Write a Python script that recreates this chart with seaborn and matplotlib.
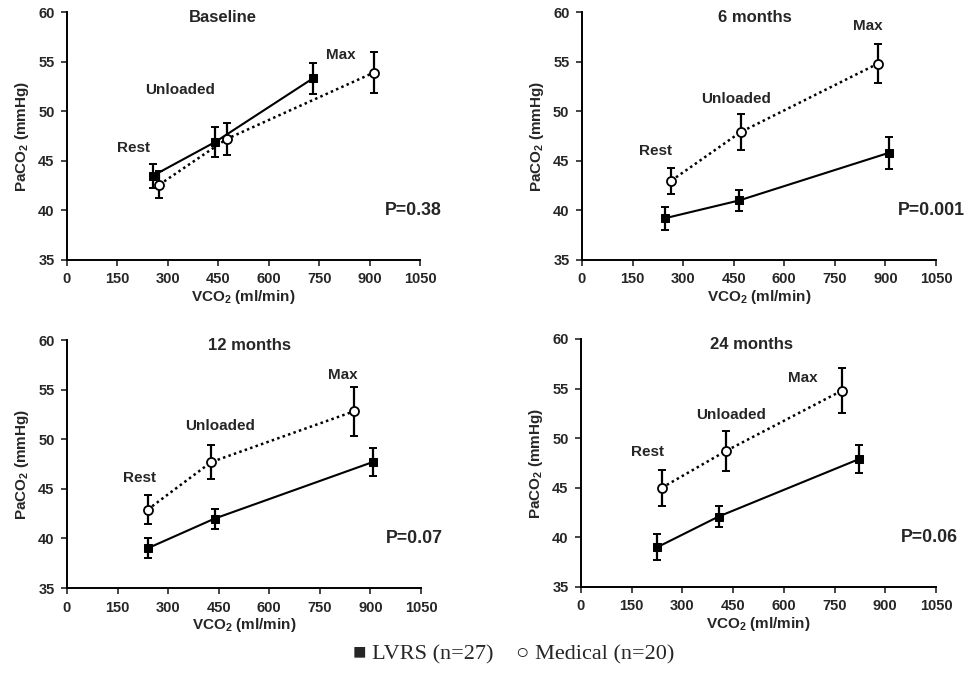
import numpy as np
import pandas as pd
import matplotlib
matplotlib.use("Agg")
import matplotlib.pyplot as plt
import seaborn as sns

# -- data (VCO2 ml/min, PaCO2 mmHg, error bar half-width)
panels = ["Baseline", "6 months", "12 months", "24 months"]
p_values = ["P=0.38", "P=0.001", "P=0.07", "P=0.06"]
stages = ["Rest", "Unloaded", "Max"]

lvrs_x = [[256, 441, 731], [245, 466, 910], [239, 438, 907], [225, 407, 823]]
lvrs_y = [[43.5, 46.9, 53.3], [39.2, 41.0, 45.8], [39.0, 42.0, 47.7], [39.0, 42.1, 47.9]]
lvrs_e = [[1.2, 1.5, 1.6], [1.15, 1.1, 1.6], [1.0, 1.0, 1.4], [1.3, 1.1, 1.4]]

med_x = [[275, 475, 913], [265, 471, 878], [239, 428, 850], [239, 428, 772]]
med_y = [[42.6, 47.2, 53.9], [43.0, 47.9, 54.8], [42.9, 47.7, 52.8], [45.0, 48.7, 54.8]]
med_e = [[1.35, 1.65, 2.1], [1.3, 1.8, 2.0], [1.45, 1.75, 2.5], [1.8, 2.0, 2.3]]

# label anchor positions (data coords) for Rest / Unloaded / Max and the title
stage_lbl_x = [[198, 337, 814], [219, 456, 848], [215, 455, 819], [197, 443, 656]]
stage_lbl_y = [[46.3, 52.1, 55.7], [46.0, 51.2, 58.6], [46.1, 51.3, 56.5], [48.6, 52.3, 56.1]]
title_x = [464, 512, 542, 503]

sns.set_style("ticks")
plt.rcParams["font.family"] = ["Liberation Sans", "DejaVu Sans"]
plt.rcParams["mathtext.fontset"] = "custom"
plt.rcParams["mathtext.rm"] = "Liberation Sans:bold"
plt.rcParams["mathtext.bf"] = "Liberation Sans:bold"

fig = plt.figure(figsize=(9.68, 6.9), dpi=100)
positions = [
    [0.0692, 0.6232, 0.3647, 0.3594],
    [0.6012, 0.6232, 0.3657, 0.3594],
    [0.0692, 0.1478, 0.3657, 0.3594],
    [0.6002, 0.1493, 0.3667, 0.3594],
]

for i, name in enumerate(panels):
    ax = fig.add_axes(positions[i])
    df = pd.DataFrame({
        "x": lvrs_x[i] + med_x[i],
        "y": lvrs_y[i] + med_y[i],
        "group": ["LVRS"] * 3 + ["Medical"] * 3,
    })
    ax.errorbar(lvrs_x[i], lvrs_y[i], yerr=lvrs_e[i], fmt="none",
                ecolor="black", elinewidth=1.6, capsize=3, capthick=1.4, zorder=2)
    ax.errorbar(med_x[i], med_y[i], yerr=med_e[i], fmt="none",
                ecolor="black", elinewidth=1.6, capsize=3, capthick=1.4, zorder=2)
    sns.lineplot(data=df[df.group == "LVRS"], x="x", y="y", ax=ax,
                 color="black", linewidth=1.5, marker="s", markersize=6,
                 markerfacecolor="black", markeredgecolor="black", zorder=3)
    sns.lineplot(data=df[df.group == "Medical"], x="x", y="y", ax=ax,
                 color="black", linewidth=1.8, linestyle=(0, (1, 1.3)),
                 marker="o", markersize=6.5, markerfacecolor="white",
                 markeredgecolor="black", markeredgewidth=1.3, zorder=3)

    ax.set_xlim(0, 1050)
    ax.set_ylim(35, 60)
    ax.set_xticks(np.arange(0, 1051, 150))
    ax.set_yticks(np.arange(35, 61, 5))
    ax.tick_params(labelsize=10.5, length=4, width=1.2, direction="out", pad=5)
    for lab in ax.get_xticklabels() + ax.get_yticklabels():
        lab.set_fontweight("bold")
    sns.despine(ax=ax)
    for s in ["left", "bottom"]:
        ax.spines[s].set_linewidth(1.4)
        ax.spines[s].set_color("black")

    ax.set_xlabel(r"VCO$_2$ (ml/min)", fontsize=11, fontweight="bold", labelpad=1)
    ax.set_ylabel(r"PaCO$_2$ (mmHg)", fontsize=11, fontweight="bold", labelpad=5)

    ax.text(title_x[i], 59.4, name, ha="center", va="center",
            fontsize=12, fontweight="bold")
    for k, st in enumerate(stages):
        ax.text(stage_lbl_x[i][k], stage_lbl_y[i][k], st, ha="center",
                va="center", fontsize=11, fontweight="bold")
    ax.text(1115 if i != 1 else 1137, 40.0, p_values[i], ha="right", va="center",
            fontsize=12.8, fontweight="bold", clip_on=False)
    if ax.get_legend() is not None:
        ax.get_legend().remove()

fig.text(0.531, 0.051, "\u25a0 LVRS (n=27)    \u25cb Medical (n=20)",
         ha="center", va="center", fontsize=16,
         family=["Liberation Serif", "DejaVu Serif"])

fig.savefig("out.png", dpi=100)
